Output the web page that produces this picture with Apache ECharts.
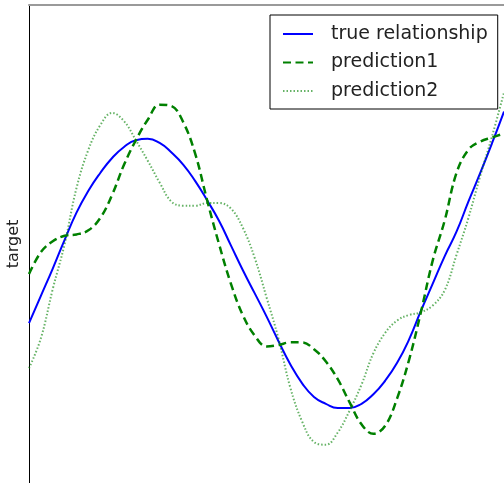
<!DOCTYPE html>
<html>
<head>
<meta charset="utf-8">
<script src="https://cdn.jsdelivr.net/npm/echarts@6/dist/echarts.min.js"></script>
<style>
  html, body { margin: 0; padding: 0; background: #ffffff; }
  #chart { width: 504px; height: 483px; }
</style>
</head>
<body>
<div id="chart"></div>
<script>
const seriesNames = ['true relationship', 'prediction1', 'prediction2']

const xs = [0, 0.25, 0.5, 0.75, 1, 1.25, 1.5, 1.75, 2, 2.25, 2.5, 2.75, 3, 3.25, 3.5, 3.75, 4, 4.25, 4.5, 4.75,
  5, 5.25, 5.5, 5.75, 6, 6.25, 6.5, 6.75, 7, 7.25, 7.5, 7.75, 8, 8.25, 8.5, 8.75, 9, 9.25, 9.5, 9.75, 10]
const trueY = [-0.33, -0.13, 0.07, 0.28, 0.48, 0.64, 0.77, 0.88, 0.96, 1.01, 1.02, 0.99, 0.92, 0.83, 0.71, 0.57, 0.42, 0.24, 0.06, -0.11,
  -0.28, -0.46, -0.63, -0.77, -0.87, -0.92, -0.95, -0.95, -0.92, -0.85, -0.75, -0.62, -0.45, -0.24, -0.04, 0.16, 0.34, 0.56, 0.77, 0.99, 1.22]
const pred1Y = [0.03, 0.19, 0.27, 0.31, 0.32, 0.35, 0.44, 0.61, 0.83, 1.01, 1.16, 1.27, 1.26, 1.14, 0.91, 0.57, 0.25, -0.04, -0.27, -0.42,
  -0.50, -0.49, -0.47, -0.47, -0.52, -0.61, -0.74, -0.91, -1.07, -1.14, -1.08, -0.88, -0.60, -0.25, 0.13, 0.42, 0.77, 0.94, 1.00, 1.03, 1.06]
const pred2Y = [-0.66, -0.44, -0.08, 0.25, 0.66, 0.94, 1.12, 1.21, 1.15, 1.01, 0.86, 0.70, 0.56, 0.53, 0.53, 0.55, 0.55, 0.51, 0.37, 0.15,
  -0.14, -0.44, -0.80, -1.05, -1.20, -1.22, -1.13, -0.97, -0.78, -0.55, -0.40, -0.31, -0.27, -0.25, -0.20, -0.09, 0.17, 0.44, 0.75, 1.04, 1.36]

function pairs(ys) {
  return xs.map((x, i) => [x, ys[i]])
}

const chart = echarts.init(document.getElementById('chart'))
chart.setOption({
  animation: false,
  textStyle: { fontFamily: 'DejaVu Sans, sans-serif' },
  grid: { left: 29, right: 0, top: 5, bottom: 0, outerBoundsMode: 'none', containLabel: false },
  legend: {
    data: seriesNames,
    orient: 'vertical',
    left: 270,
    top: 15,
    backgroundColor: '#ffffff',
    borderColor: '#000000',
    borderWidth: 1,
    borderRadius: 0,
    padding: [9, 10, 8, 12],
    itemWidth: 30,
    itemHeight: 14,
    itemGap: 8.5,
    itemStyle: { opacity: 0 },
    textStyle: {
      fontSize: 19,
      lineHeight: 20,
      color: '#222222',
      padding: [0, 0, 0, 13],
    },
  },
  xAxis: {
    type: 'value',
    min: 0,
    max: 10,
    position: 'top',
    axisLine: { show: true, onZero: false, lineStyle: { color: '#9a9a9a', width: 2 } },
    axisTick: { show: false },
    axisLabel: { show: false },
    splitLine: { show: false },
  },
  yAxis: {
    type: 'value',
    min: -1.5,
    max: 2.0,
    name: 'target',
    nameLocation: 'middle',
    nameGap: 7,
    nameTextStyle: { fontSize: 16, color: '#222222' },
    axisLine: { show: true, onZero: false, lineStyle: { color: '#000000', width: 1 } },
    axisTick: { show: false },
    axisLabel: { show: false },
    splitLine: { show: false },
  },
  series: [
    {
      name: seriesNames[0],
      type: 'line',
      data: pairs(trueY),
      smooth: 0.5,
      symbol: 'none',
      lineStyle: { color: '#0000ff', width: 2 },
      itemStyle: { color: '#0000ff' },
    },
    {
      name: seriesNames[1],
      type: 'line',
      data: pairs(pred1Y),
      smooth: 0.4,
      symbol: 'none',
      lineStyle: { color: '#008000', width: 2.5, type: [8, 4.5] },
      itemStyle: { color: '#008000' },
    },
    {
      name: seriesNames[2],
      type: 'line',
      data: pairs(pred2Y),
      smooth: 0.4,
      symbol: 'none',
      lineStyle: { color: 'rgba(0,128,0,0.6)', width: 2, type: [1.5, 2] },
      itemStyle: { color: 'rgba(0,128,0,0.6)' },
    },
  ],
})
</script>
</body>
</html>
